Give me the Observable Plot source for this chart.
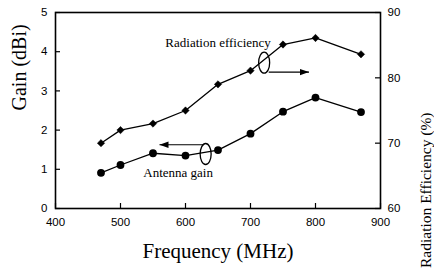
<!DOCTYPE html>
<html>
<head>
<meta charset="utf-8">
<script src="https://cdn.jsdelivr.net/npm/d3@7"></script>
<script src="https://cdn.jsdelivr.net/npm/@observablehq/plot@0.6"></script>
<style>
  html, body { margin: 0; padding: 0; background: white; }
</style>
</head>
<body>
<div id="chart"></div>
<script>
// ---- data ----
const frequency = [470, 500, 550, 600, 650, 700, 750, 800, 870];          // MHz
const antennaGain = [0.91, 1.11, 1.41, 1.35, 1.49, 1.91, 2.47, 2.83, 2.46]; // dBi
const radiationEfficiency = [70.0, 72.0, 73.0, 75.0, 79.0, 81.1, 85.1, 86.1, 83.6]; // %

const xTicks = [400, 500, 600, 700, 800, 900];
const gainTicks = [0, 1, 2, 3, 4, 5];
const efficiencyTicks = [60, 70, 80, 90];

// annotations (data units: x in MHz, y in dBi)
const annotationText = ["Radiation efficiency", "Antenna gain"];
const annotationTextX = [569, 535];
const annotationTextY = [4.23, 0.92];
const loopX = [721, 631];
const loopY = [3.72, 1.39];
const arrowX1 = [728, 628];
const arrowX2 = [790, 560];
const arrowY = [3.48, 1.625];

// ---- derived ----
const effMin = 60, effMax = 90, gainMin = 0, gainMax = 5;
const effToGain = e => gainMin + (e - effMin) / (effMax - effMin) * (gainMax - gainMin);
const gainToEff = g => effMin + (g - gainMin) / (gainMax - gainMin) * (effMax - effMin);

const gainData = frequency.map((f, i) => ({f, v: antennaGain[i]}));
const effData = frequency.map((f, i) => ({f, v: effToGain(radiationEfficiency[i])}));
const notes = annotationText.map((t, i) => ({t, x: annotationTextX[i], y: annotationTextY[i]}));
const loops = loopX.map((x, i) => ({x, y: loopY[i]}));
const arrows = arrowX1.map((x1, i) => ({x1, x2: arrowX2[i], y: arrowY[i]}));

const serif = "Liberation Serif, Times New Roman, serif";

const W = 434, H = 275, ML = 55, MR = 54, MT = 12, MB = 67;
const frameW = W - ML - MR, frameH = H - MT - MB, tickLen = 5;

// custom symbols
const loopSymbol = {
  draw(ctx) {
    const rx = 5.5, ry = 10.5, k = 0.5523;
    ctx.moveTo(0, -ry);
    ctx.bezierCurveTo(k * rx, -ry, rx, -k * ry, rx, 0);
    ctx.bezierCurveTo(rx, k * ry, k * rx, ry, 0, ry);
    ctx.bezierCurveTo(-k * rx, ry, -rx, k * ry, -rx, 0);
    ctx.bezierCurveTo(-rx, -k * ry, -k * rx, -ry, 0, -ry);
  }
};
const headSymbol = {
  draw(ctx) {
    ctx.moveTo(0, 0);
    ctx.lineTo(-9, -3.2);
    ctx.lineTo(-9, 3.2);
    ctx.closePath();
  }
};

const chart = Plot.plot({
  width: W,
  height: H,
  marginLeft: ML,
  marginRight: MR,
  marginTop: MT,
  marginBottom: MB,
  style: {background: "white", fontFamily: "Liberation Sans, Arial, sans-serif", fontSize: "11.5px", color: "black"},
  x: {domain: [400, 900], label: null},
  y: {domain: [gainMin, gainMax], label: null},
  marks: [
    Plot.axisX({ticks: xTicks, tickFormat: d => String(d), tickSize: 0, tickPadding: 9, label: null, fontSize: 11.5}),
    Plot.axisY({anchor: "left", ticks: gainTicks, tickFormat: d => String(d), tickSize: 0, tickPadding: 8, label: null, fontSize: 11.5}),
    Plot.axisY({anchor: "right", ticks: efficiencyTicks.map(effToGain), tickFormat: d => String(Math.round(gainToEff(d))), tickSize: 0, tickPadding: 7, label: null, fontSize: 11.5}),
    // inward tick marks
    Plot.tickX(xTicks, {x: d => d, insetTop: frameH - tickLen, stroke: "black", strokeWidth: 1.2}),
    Plot.tickY(gainTicks, {y: d => d, insetRight: frameW - tickLen, stroke: "black", strokeWidth: 1.2}),
    Plot.tickY(efficiencyTicks.map(effToGain), {y: d => d, insetLeft: frameW - tickLen, stroke: "black", strokeWidth: 1.2}),
    Plot.frame({stroke: "black", strokeWidth: 1.6}),
    Plot.line(effData, {x: "f", y: "v", stroke: "black", strokeWidth: 1.3}),
    Plot.dot(effData, {x: "f", y: "v", symbol: "diamond2", r: 3.3, fill: "black", stroke: "black", strokeWidth: 0.5}),
    Plot.line(gainData, {x: "f", y: "v", stroke: "black", strokeWidth: 1.3}),
    Plot.dot(gainData, {x: "f", y: "v", symbol: "circle", r: 3.9, fill: "black"}),
    Plot.text(notes, {x: "x", y: "y", text: "t", textAnchor: "start", fontFamily: serif, fontSize: 13, fill: "black"}),
    Plot.dot(loops, {x: "x", y: "y", symbol: loopSymbol, fill: "none", stroke: "black", strokeWidth: 1.3}),
    Plot.link(arrows, {x1: "x1", x2: "x2", y1: "y", y2: "y", stroke: "black", strokeWidth: 1.1}),
    Plot.dot(arrows, {x: "x2", y: "y", symbol: headSymbol, fill: "black", stroke: "none", rotate: d => d.x2 > d.x1 ? 0 : 180}),
    Plot.text(["Frequency (MHz)"], {frameAnchor: "bottom", dy: 49, fontFamily: serif, fontSize: 21, fill: "black"}),
    Plot.text(["Gain (dBi)"], {frameAnchor: "left", dx: -36, rotate: -90, fontFamily: serif, fontSize: 20, fill: "black"}),
    Plot.text(["Radiation Efficiency (%)"], {frameAnchor: "right", dx: 46, dy: 2, rotate: -90, fontFamily: serif, fontSize: 15.5, fill: "black"})
  ]
});
document.getElementById("chart").appendChild(chart);
</script>
</body>
</html>
